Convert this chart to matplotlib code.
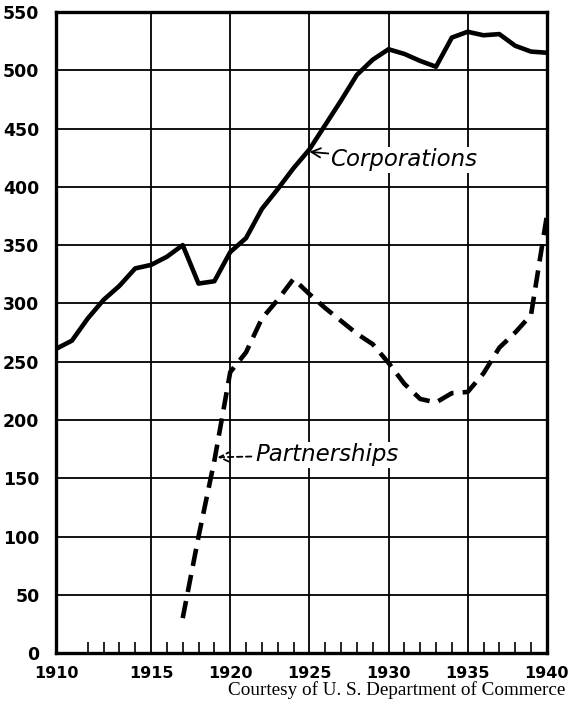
import matplotlib.pyplot as plt
from matplotlib.ticker import FixedLocator

# corporations from 1909, partnerships from 1917
corp_years = list(range(1909, 1941))
corp_values = [261, 268, 287, 303, 315, 330, 333, 340, 350, 317, 319, 344, 356, 381, 398, 416,
               432, 453, 474, 496, 509, 518, 514, 508, 503, 528, 533, 530, 531, 521, 516, 515]
part_years = list(range(1917, 1941))
part_values = [30, 100, 165, 241, 258, 287, 303, 321, 308, 296, 285, 274, 265, 249, 231, 218,
               215, 223, 224, 240, 262, 275, 290, 375]

xtick_pos = [1909, 1915, 1920, 1925, 1930, 1935, 1940]
xtick_labels = ['1910', '1915', '1920', '1925', '1930', '1935', '1940']
ytick_pos = list(range(0, 551, 50))

fig = plt.figure(figsize=(5.72, 7.03), dpi=100)
ax = fig.add_axes([0.098, 0.071, 0.858, 0.912])

ax.plot(corp_years, corp_values, color='black', lw=3.3, solid_joinstyle='round', zorder=3)
ax.plot(part_years, part_values, color='black', lw=3.3, dashes=(3.8, 2.0), zorder=3)

ax.set_xlim(1909, 1940)
ax.set_ylim(0, 550)
ax.set_xticks(xtick_pos)
ax.set_xticklabels(xtick_labels, fontsize=11.5, fontweight='bold')
ax.set_yticks(ytick_pos)
ax.set_yticklabels([str(v) for v in ytick_pos], fontsize=12.5, fontweight='bold')
ax.xaxis.set_minor_locator(FixedLocator([y for y in range(1910, 1940) if y % 5 != 0]))
ax.tick_params(which='major', length=0, pad=9)
ax.tick_params(axis='y', which='major', pad=12)
ax.tick_params(axis='x', which='minor', direction='in', length=8, width=1.2)

ax.grid(True, which='major', color='black', lw=1.3)
ax.set_axisbelow(True)
for s in ax.spines.values():
    s.set_linewidth(2.4)

ax.annotate('Corporations', xy=(1925.0, 430), xytext=(1926.3, 423),
            fontsize=16.5, style='italic', va='center', ha='left',
            bbox=dict(facecolor='white', edgecolor='none', pad=1),
            arrowprops=dict(arrowstyle='->', color='black', lw=1.3, shrinkA=0, shrinkB=0),
            zorder=4)
ax.annotate('Partnerships', xy=(1919.2, 168), xytext=(1921.6, 170),
            fontsize=16.5, style='italic', va='center', ha='left',
            bbox=dict(facecolor='white', edgecolor='none', pad=1),
            arrowprops=dict(arrowstyle='->', color='black', lw=1.3, linestyle=(0, (3, 2)),
                            shrinkA=2, shrinkB=0),
            zorder=4)

fig.text(0.988, 0.0185, 'Courtesy of U. S. Department of Commerce', fontsize=13.8,
         family='Liberation Serif', ha='right', va='center')

fig.savefig('out.png', dpi=100)
